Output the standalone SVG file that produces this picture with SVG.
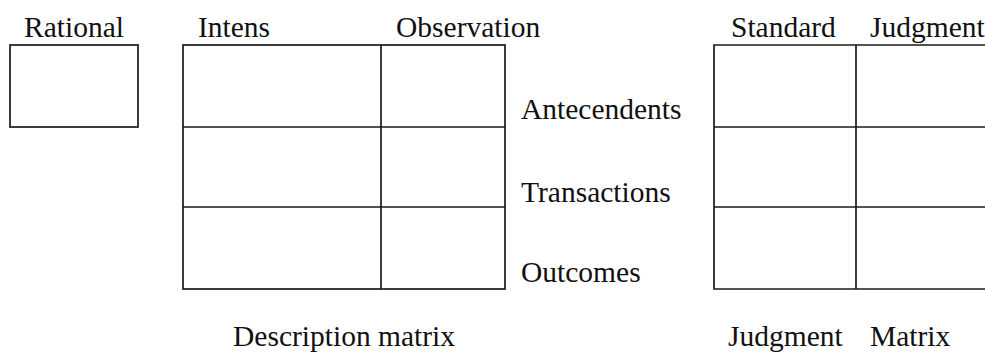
<svg xmlns="http://www.w3.org/2000/svg" width="985" height="352" viewBox="0 0 985 352">
<style>
.t{font-family:"Liberation Serif","Times New Roman",serif;font-size:29.5px;fill:#111}
.b{fill:none;stroke:#1a1a1a;stroke-width:1.7}
</style>
<rect width="985" height="352" fill="#fff"/>
<g id="rational">
<text class="t" x="24" y="37">Rational</text>
<rect class="b" x="10" y="45" width="128" height="82"/>
</g>
<g id="description-matrix">
<text class="t" x="198" y="37">Intens</text>
<text class="t" x="396" y="37">Observation</text>
<rect class="b" x="183" y="45" width="322" height="244"/>
<line class="b" x1="381" y1="45" x2="381" y2="289"/>
<line class="b" x1="183" y1="127" x2="505" y2="127"/>
<line class="b" x1="183" y1="207" x2="505" y2="207"/>
<text class="t" x="233" y="345.5">Description matrix</text>
</g>
<g id="row-labels">
<text class="t" x="521" y="119">Antecendents</text>
<text class="t" x="521" y="202">Transactions</text>
<text class="t" x="521" y="282">Outcomes</text>
</g>
<g id="judgment-matrix">
<text class="t" x="731" y="37">Standard</text>
<text class="t" x="870" y="37">Judgment</text>
<path class="b" d="M990 45 H714 V289 H990"/>
<line class="b" x1="856" y1="45" x2="856" y2="289"/>
<line class="b" x1="714" y1="127" x2="990" y2="127"/>
<line class="b" x1="714" y1="207" x2="990" y2="207"/>
<text class="t" x="728" y="345.5">Judgment</text>
<text class="t" x="870" y="345.5">Matrix</text>
</g>
<g id="connectors"></g>
</svg>
